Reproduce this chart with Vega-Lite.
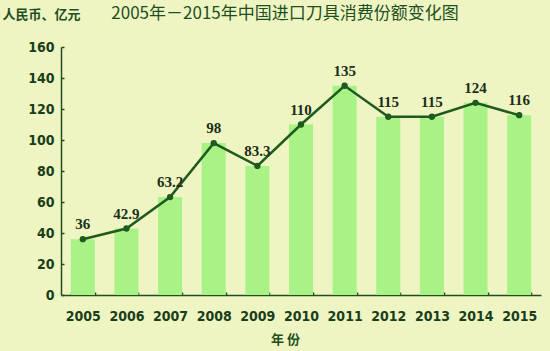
{
  "$schema": "https://vega.github.io/schema/vega-lite/v6.json",
  "width": 480,
  "height": 248,
  "autosize": {"type": "none"},
  "padding": {"left": 61, "top": 47, "right": 9, "bottom": 56},
  "background": "#eef5c2",
  "title": {
    "text": "2005年－2015年中国进口刀具消费份额变化图",
    "anchor": "middle",
    "dx": -16,
    "dy": 15,
    "offset": 0,
    "fontSize": 17,
    "fontWeight": "normal",
    "font": "Noto Sans CJK SC",
    "color": "#1f4f1f"
  },
  "data": {
    "values": [
      {"year": "2005", "value": 36, "label": "36"},
      {"year": "2006", "value": 42.9, "label": "42.9"},
      {"year": "2007", "value": 63.2, "label": "63.2"},
      {"year": "2008", "value": 98, "label": "98"},
      {"year": "2009", "value": 83.3, "label": "83.3"},
      {"year": "2010", "value": 110, "label": "110"},
      {"year": "2011", "value": 135, "label": "135"},
      {"year": "2012", "value": 115, "label": "115"},
      {"year": "2013", "value": 115, "label": "115"},
      {"year": "2014", "value": 124, "label": "124"},
      {"year": "2015", "value": 116, "label": "116"}
    ]
  },
  "encoding": {
    "x": {
      "field": "year",
      "type": "nominal",
      "scale": {"paddingInner": 0.45, "paddingOuter": 0.225},
      "axis": {
        "title": "年 份",
        "titleFont": "Noto Sans CJK SC",
        "titleFontSize": 13,
        "titleFontWeight": "bold",
        "titleColor": "#1f4f1f",
        "titlePadding": 10,
        "titleX": 224,
        "labelAngle": 0,
        "labelFont": "Liberation Sans Narrow, DejaVu Sans Condensed, Liberation Sans",
        "labelFontSize": 14,
        "labelFontWeight": "bold",
        "labelColor": "#1a3d1a",
        "labelPadding": 17,
        "domainColor": "#1f4f1f",
        "domainWidth": 1.5,
        "tickBand": "extent",
        "tickColor": "#1f4f1f",
        "tickSize": -3,
        "tickWidth": 1.5,
        "grid": false
      }
    },
    "y": {
      "field": "value",
      "type": "quantitative",
      "scale": {"domain": [0, 160], "nice": false},
      "axis": {
        "title": "人民币、亿元",
        "titleAngle": 0,
        "titleFont": "Noto Sans CJK SC",
        "titleFontSize": 13,
        "titleFontWeight": "bold",
        "titleColor": "#1f4f1f",
        "titleAlign": "left",
        "titleBaseline": "middle",
        "titleX": -59,
        "titleY": -33,
        "values": [0, 20, 40, 60, 80, 100, 120, 140, 160],
        "labelOverlap": false,
        "labelFont": "Liberation Sans Narrow, DejaVu Sans Condensed, Liberation Sans",
        "labelFontSize": 14,
        "labelFontWeight": "bold",
        "labelColor": "#1a3d1a",
        "labelPadding": 10,
        "domainColor": "#1f4f1f",
        "domainWidth": 1.5,
        "tickColor": "#1f4f1f",
        "tickSize": -3,
        "tickWidth": 1.5,
        "grid": false
      }
    }
  },
  "layer": [
    {
      "mark": {"type": "bar", "color": "#a8f286"}
    },
    {
      "mark": {"type": "line", "color": "#1f5a1f", "strokeWidth": 2.5, "point": {"filled": true, "color": "#1f5a1f", "size": 40}}
    },
    {
      "mark": {"type": "text", "dy": -15, "font": "Liberation Serif", "fontSize": 15, "fontWeight": "bold", "color": "#1a2e1a", "baseline": "middle"},
      "encoding": {
        "text": {"field": "label", "type": "nominal"}
      }
    }
  ],
  "config": {
    "view": {"stroke": null}
  }
}
